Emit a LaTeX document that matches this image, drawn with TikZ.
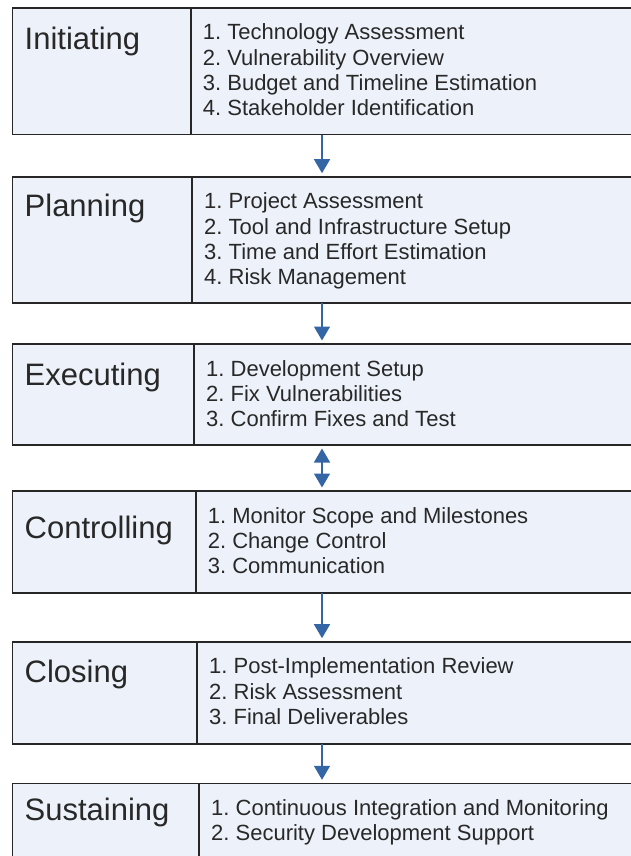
\documentclass[tikz,border=0pt]{standalone}
\usepackage{fontspec}
\setmainfont{Liberation Sans}
\usetikzlibrary{arrows.meta}
\definecolor{cellfill}{RGB}{237,242,250}
\definecolor{rulegray}{RGB}{38,38,38}
\definecolor{flowblue}{RGB}{52,101,164}
\definecolor{inkgray}{RGB}{40,40,40}
\frenchspacing

\begin{document}
\begin{tikzpicture}[x=1pt,y=-1pt,
  cell/.style={draw=rulegray,fill=cellfill,line width=1.6pt,rectangle,anchor=north west,inner sep=0pt,outer sep=0pt},
  phase/.style={anchor=base west,inner sep=0pt,text=inkgray,font=\fontsize{31}{36}\selectfont},
  item/.style={anchor=base west,inner sep=0pt,text=inkgray,font=\fontsize{22}{25}\selectfont},
  flow/.style={draw=flowblue,line width=1.5pt,-{Triangle[width=16pt,length=14pt]},shorten >=3.5pt},
  flowboth/.style={draw=flowblue,line width=1.5pt,{Triangle[width=16pt,length=14pt]}-{Triangle[width=16pt,length=14pt]},shorten >=3.5pt,shorten <=3.5pt}]
\useasboundingbox (0,0) rectangle (631,856);
\clip (0,0) rectangle (631,856);
\coordinate (axis) at (322,0);

% Initiating
\node[cell,minimum width=178.2pt,minimum height=126.5pt] (init) at (12.5,8) {};
\node[cell,minimum width=449.3pt,minimum height=126.5pt] (init-list) at (init.north east) {};
\node[phase] (init-name) at ([xshift=12pt,yshift=-42pt]init.north west) {Initiating};
\foreach \txt [count=\k] in {Technology Assessment,Vulnerability Overview,Budget and Timeline Estimation,Stakeholder Identification}
  \node[item] (init-\k) at ([xshift=12pt,yshift={-32-25.3*(\k-1)}]init-list.north west) {\k. \txt};

% Planning
\node[cell,minimum width=179.5pt,minimum height=126.3pt] (plan) at (12.5,176.7) {};
\node[cell,minimum width=448pt,minimum height=126.3pt] (plan-list) at (plan.north east) {};
\node[phase] (plan-name) at ([xshift=12pt,yshift=-40pt]plan.north west) {Planning};
\foreach \txt [count=\k] in {Project Assessment,Tool and Infrastructure Setup,Time and Effort Estimation,Risk Management}
  \node[item] (plan-\k) at ([xshift=12pt,yshift={-32-25.3*(\k-1)}]plan-list.north west) {\k. \txt};

% Executing
\node[cell,minimum width=181.5pt,minimum height=101pt] (exec) at (12.5,344) {};
\node[cell,minimum width=446pt,minimum height=101pt] (exec-list) at (exec.north east) {};
\node[phase] (exec-name) at ([xshift=12pt,yshift=-41pt]exec.north west) {Executing};
\foreach \txt [count=\k] in {Development Setup,Fix Vulnerabilities,Confirm Fixes and Test}
  \node[item] (exec-\k) at ([xshift=12pt,yshift={-32-25.3*(\k-1)}]exec-list.north west) {\k. \txt};

% Controlling
\node[cell,minimum width=183.2pt,minimum height=101.7pt] (ctrl) at (12.5,491) {};
\node[cell,minimum width=444.3pt,minimum height=101.7pt] (ctrl-list) at (ctrl.north east) {};
\node[phase] (ctrl-name) at ([xshift=12pt,yshift=-47pt]ctrl.north west) {Controlling};
\foreach \txt [count=\k] in {Monitor Scope and Milestones,Change Control,Communication}
  \node[item] (ctrl-\k) at ([xshift=12pt,yshift={-32-25.3*(\k-1)}]ctrl-list.north west) {\k. \txt};

% Closing
\node[cell,minimum width=184.5pt,minimum height=102pt] (close) at (12.5,641.7) {};
\node[cell,minimum width=443pt,minimum height=102pt] (close-list) at (close.north east) {};
\node[phase] (close-name) at ([xshift=12pt,yshift=-41pt]close.north west) {Closing};
\foreach \txt [count=\k] in {Post-Implementation Review,Risk Assessment,Final Deliverables}
  \node[item] (close-\k) at ([xshift=12pt,yshift={-32-25.3*(\k-1)}]close-list.north west) {\k. \txt};

% Sustaining
\node[cell,minimum width=186.5pt,minimum height=100pt] (sustain) at (12.5,783.3) {};
\node[cell,minimum width=441pt,minimum height=100pt] (sustain-list) at (sustain.north east) {};
\node[phase] (sustain-name) at ([xshift=12pt,yshift=-37pt]sustain.north west) {Sustaining};
\foreach \txt [count=\k] in {Continuous Integration and Monitoring,Security Development Support}
  \node[item] (sustain-\k) at ([xshift=12pt,yshift={-32-25.3*(\k-1)}]sustain-list.north west) {\k. \txt};

% arrows
\draw[flow] (init-list.south west -| axis) -- (plan-list.north west -| axis);
\draw[flow] (plan-list.south west -| axis) -- (exec-list.north west -| axis);
\draw[flowboth] (exec-list.south west -| axis) -- (ctrl-list.north west -| axis);
\draw[flow] (ctrl-list.south west -| axis) -- (close-list.north west -| axis);
\draw[flow] (close-list.south west -| axis) -- (sustain-list.north west -| axis);
\end{tikzpicture}
\end{document}
